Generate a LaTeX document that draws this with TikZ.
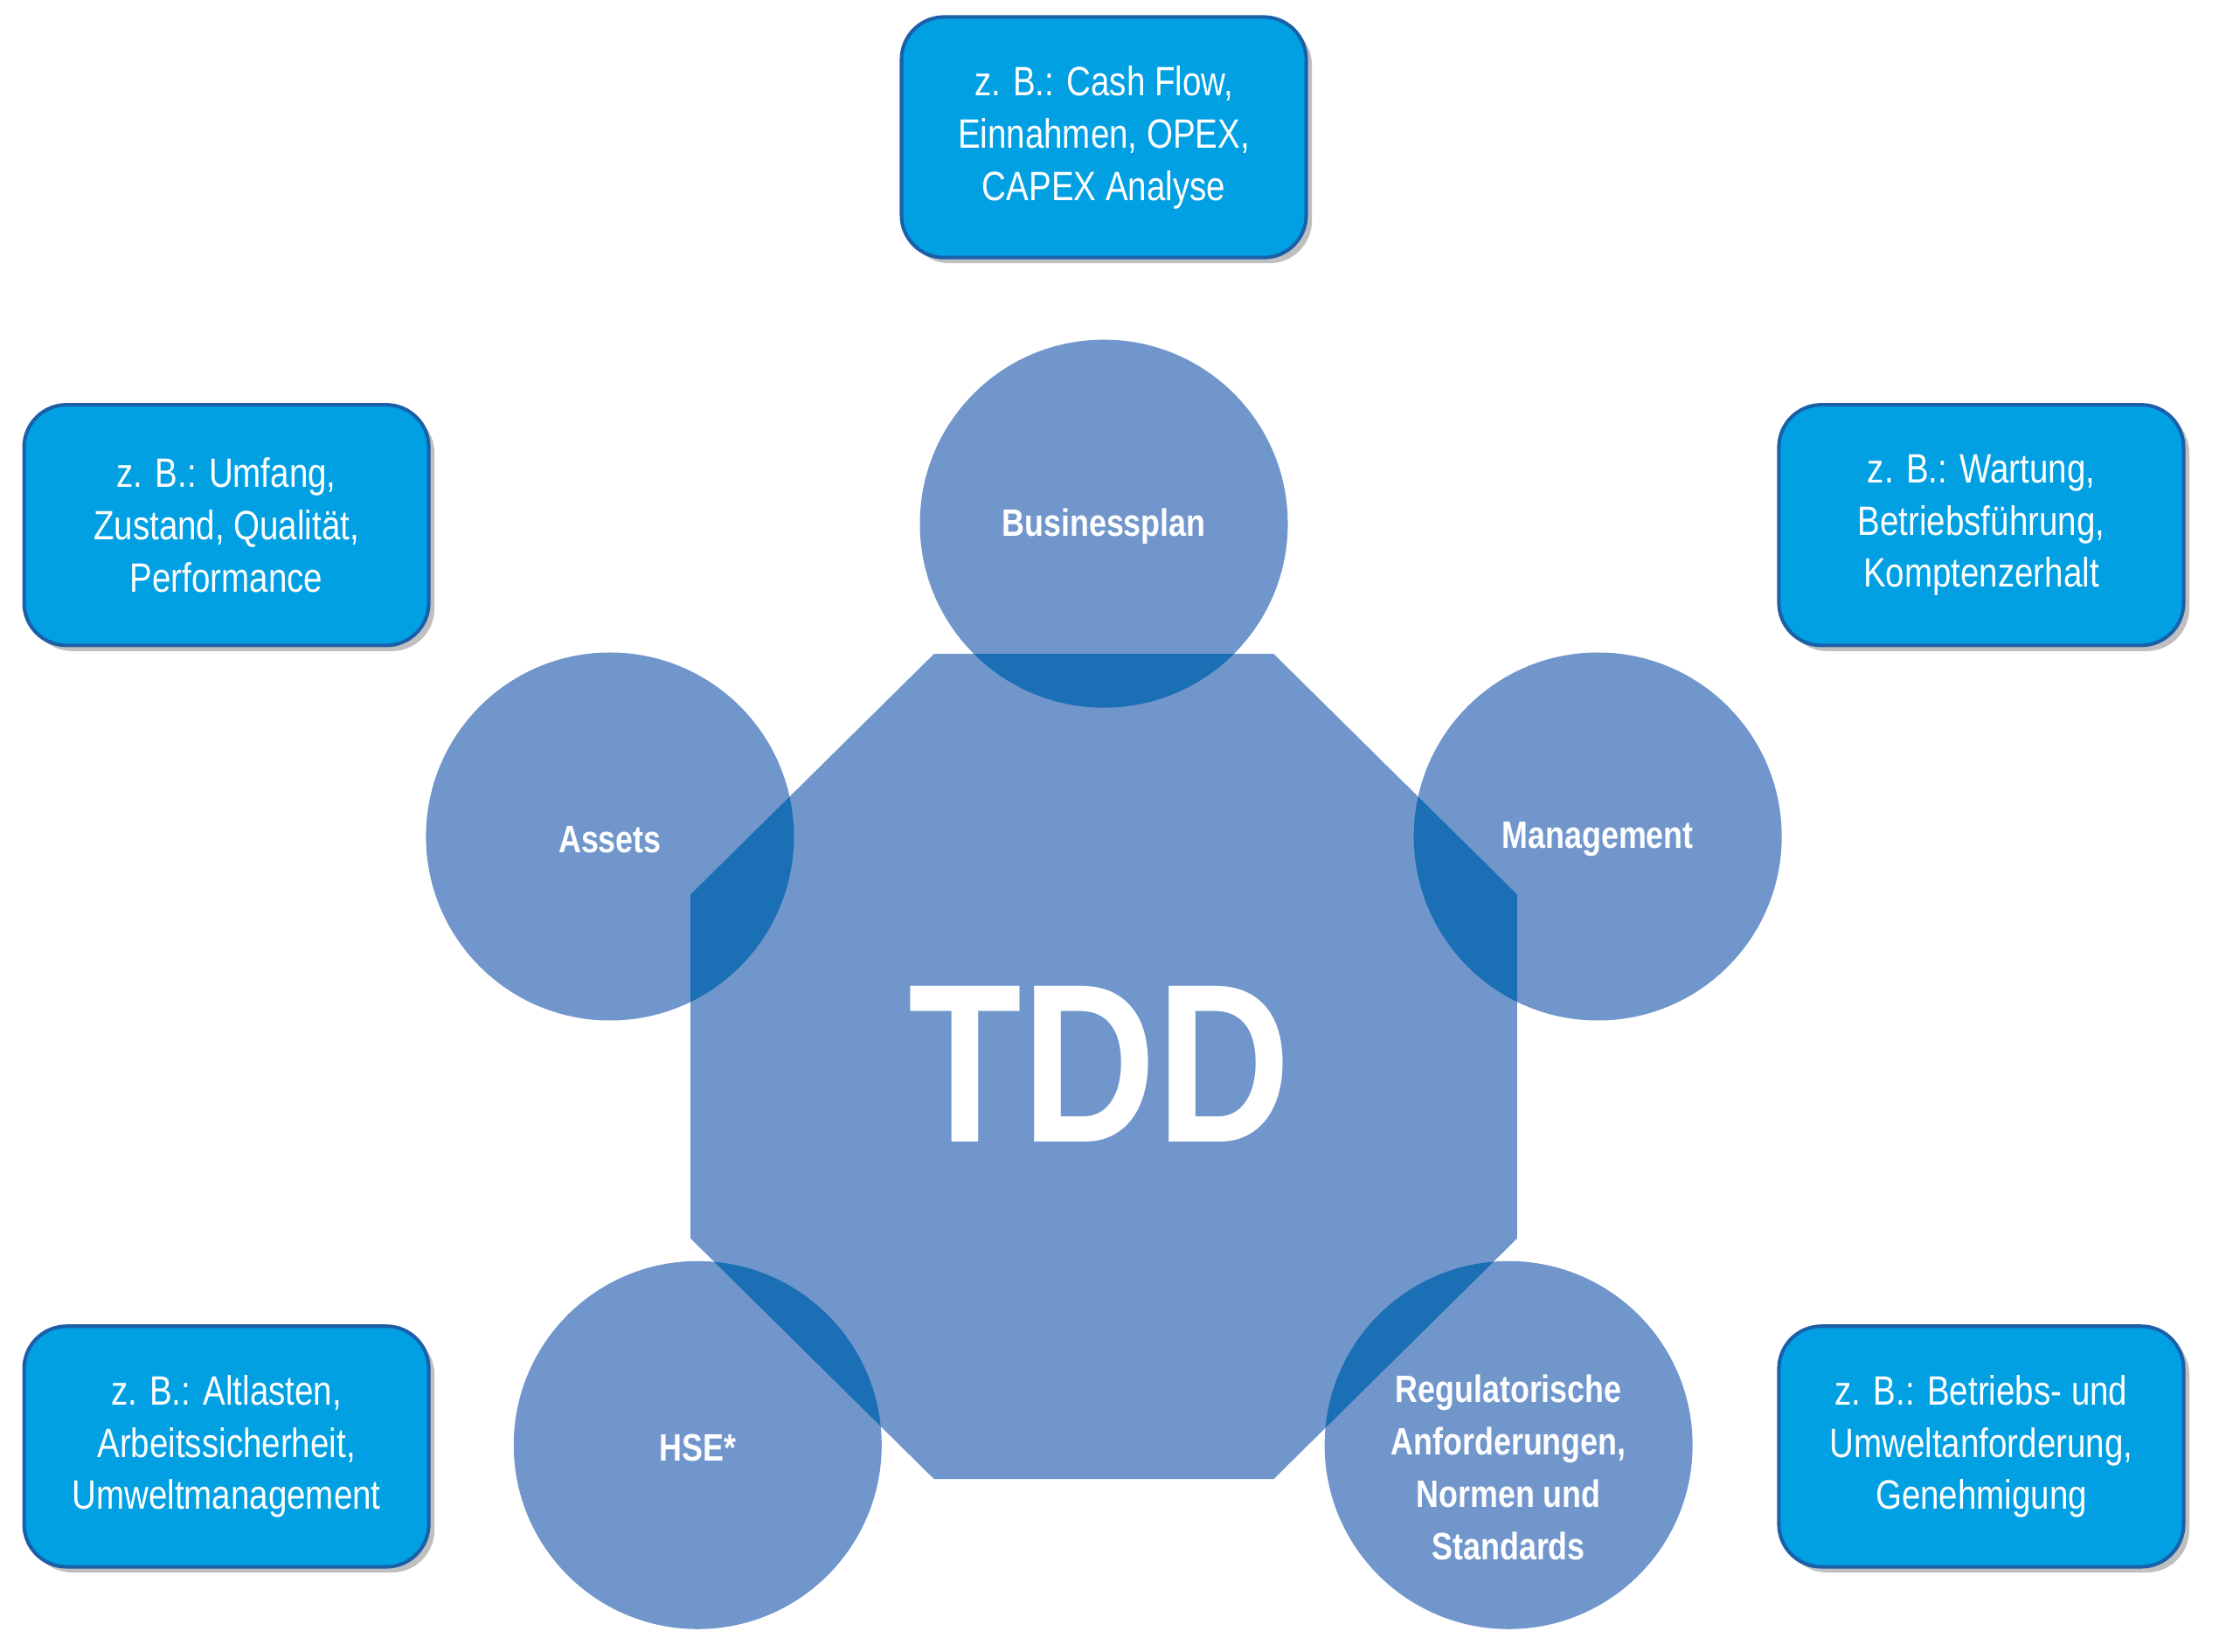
\documentclass[tikz,border=0pt]{standalone}
\usepackage{fontspec}
\setmainfont[FakeStretch=0.82]{Liberation Sans}
\usetikzlibrary{shadows}
\definecolor{cfill}{HTML}{7096CC}
\definecolor{cdark}{HTML}{1A6FB5}
\definecolor{bfill}{HTML}{00A0E3}
\definecolor{bline}{HTML}{1A5FA8}
\begin{document}
\begin{tikzpicture}[x=1pt,y=-1pt,
  infobox/.style={draw=bline,line width=2.5pt,fill=bfill,rounded corners=30pt,minimum width=286pt,minimum height=170pt,text=white,align=center,font=\fontsize{29}{37}\selectfont,drop shadow={shadow xshift=4pt,shadow yshift=-4pt,opacity=0.5}},
  circ/.style={circle,minimum size=260pt,inner sep=0pt,text=white,align=center,font=\bfseries\fontsize{27}{37}\selectfont}]
\useasboundingbox (0,0) rectangle (1568,1167);
\def\oct{(660,462) -- (900,462) -- (1072,632) -- (1072,875) -- (900,1045) -- (660,1045) -- (488,875) -- (488,632) -- cycle}
\fill[cfill] \oct;
\foreach \p in {(780,370),(431,591),(1129,591),(493,1021),(1066,1021)}{
  \fill[cfill] \p circle (130);
  \begin{scope}\clip \oct; \fill[cdark] \p circle (130);\end{scope}
}
\node[circ] (bp) at (780,372) {Businessplan};
\node[circ] (as) at (431,593) {Assets};
\node[circ] (mg) at (1129,593) {Management};
\node[circ] (hse) at (493,1023) {HSE*};
\node[circ] (reg) at (1066,1037) {Regulatorische\\Anforderungen,\\Normen und\\Standards};
\node[text=white,font=\bfseries\fontsize{160}{160}\selectfont] (tdd) at (777,752) {TDD};
\node[infobox] (b1) at (780,97) {z. B.: Cash Flow,\\Einnahmen, OPEX,\\CAPEX Analyse};
\node[infobox] (b2) at (160,371) {z. B.: Umfang,\\Zustand, Qualität,\\Performance};
\node[infobox] (b3) at (1400,371) {z. B.: Wartung,\\Betriebsführung,\\Komptenzerhalt};
\node[infobox] (b4) at (160,1022) {z. B.: Altlasten,\\Arbeitssicherheit,\\Umweltmanagement};
\node[infobox] (b5) at (1400,1022) {z. B.: Betriebs- und\\Umweltanforderung,\\Genehmigung};
\end{tikzpicture}
\end{document}
